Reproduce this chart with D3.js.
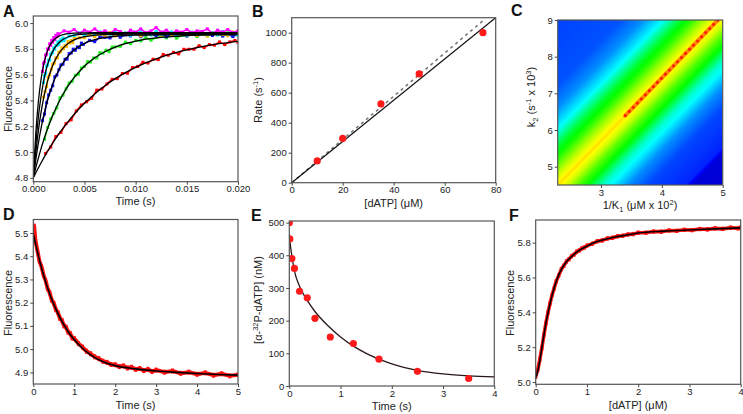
<!DOCTYPE html>
<html><head><meta charset="utf-8">
<script src="https://cdn.jsdelivr.net/npm/d3@7"></script>
<style>body{margin:0;background:#fff} svg{font-family:Arial,"Liberation Sans",sans-serif}</style>
</head><body>
<svg id="c" width="743" height="414"></svg>
<script>
// ---------------- Panel A data ----------------
const redData=[[0.0012,4.989],[0.0017,5.039],[0.0022,5.120],[0.0027,5.152],[0.0032,5.220],[0.0037,5.250],[0.0042,5.319],[0.0047,5.365],[0.0052,5.390],[0.0057,5.417],[0.0062,5.480],[0.0067,5.489],[0.0072,5.528],[0.0077,5.564],[0.0082,5.569],[0.0087,5.609],[0.0092,5.611],[0.0097,5.655],[0.0102,5.663],[0.0107,5.696],[0.0112,5.690],[0.0117,5.720],[0.0122,5.717],[0.0127,5.757],[0.0132,5.751],[0.0137,5.773],[0.0142,5.761],[0.0147,5.797],[0.0152,5.797],[0.0157,5.797],[0.0162,5.825],[0.0167,5.810],[0.0172,5.833],[0.0177,5.829],[0.0182,5.854],[0.0187,5.833],[0.0192,5.854],[0.0197,5.865],[0.0200,5.851]];
const greenData=[[0.0011,5.098],[0.0014,5.190],[0.0017,5.257],[0.0020,5.300],[0.0023,5.343],[0.0026,5.420],[0.0029,5.441],[0.0032,5.490],[0.0035,5.536],[0.0038,5.548],[0.0041,5.595],[0.0044,5.603],[0.0047,5.652],[0.0050,5.664],[0.0053,5.701],[0.0056,5.698],[0.0059,5.730],[0.0062,5.729],[0.0065,5.771],[0.0068,5.766],[0.0071,5.790],[0.0074,5.778],[0.0077,5.814],[0.0080,5.815],[0.0085,5.820],[0.0090,5.852],[0.0095,5.840],[0.0100,5.866],[0.0105,5.862],[0.0110,5.888],[0.0115,5.867],[0.0120,5.888],[0.0125,5.898],[0.0130,5.885],[0.0135,5.907],[0.0140,5.883],[0.0145,5.905],[0.0150,5.901],[0.0155,5.917],[0.0160,5.896],[0.0165,5.915],[0.0170,5.902],[0.0175,5.921],[0.0180,5.920],[0.0185,5.904],[0.0190,5.925],[0.0195,5.900],[0.0200,5.916]];
const blueData=[[0.0009,5.243],[0.0011,5.295],[0.0013,5.382],[0.0015,5.443],[0.0017,5.479],[0.0019,5.514],[0.0021,5.584],[0.0023,5.597],[0.0025,5.638],[0.0027,5.676],[0.0029,5.681],[0.0031,5.720],[0.0033,5.721],[0.0035,5.763],[0.0037,5.768],[0.0039,5.798],[0.0041,5.789],[0.0043,5.815],[0.0045,5.809],[0.0047,5.845],[0.0049,5.835],[0.0055,5.866],[0.0060,5.856],[0.0065,5.891],[0.0070,5.889],[0.0075,5.885],[0.0080,5.910],[0.0085,5.890],[0.0090,5.909],[0.0095,5.900],[0.0100,5.920],[0.0105,5.894],[0.0110,5.911],[0.0115,5.917],[0.0120,5.902],[0.0125,5.920],[0.0130,5.894],[0.0135,5.914],[0.0140,5.908],[0.0145,5.923],[0.0150,5.900],[0.0155,5.918],[0.0160,5.904],[0.0165,5.922],[0.0170,5.920],[0.0175,5.904],[0.0180,5.924],[0.0185,5.899],[0.0190,5.914],[0.0195,5.895],[0.0200,5.918]];
const orangeData=[[0.00100,5.426],[0.00115,5.468],[0.00130,5.508],[0.00145,5.581],[0.00160,5.598],[0.00175,5.642],[0.00190,5.682],[0.00205,5.689],[0.00220,5.729],[0.00235,5.731],[0.00250,5.773],[0.00265,5.779],[0.00280,5.809],[0.00295,5.801],[0.00310,5.827],[0.00325,5.820],[0.00340,5.857],[0.00355,5.846],[0.00370,5.864],[0.00385,5.848],[0.00400,5.880],[0.0045,5.886],[0.0050,5.887],[0.0055,5.913],[0.0060,5.895],[0.0065,5.915],[0.0070,5.906],[0.0075,5.927],[0.0080,5.901],[0.0085,5.918],[0.0090,5.924],[0.0095,5.908],[0.0100,5.926],[0.0105,5.900],[0.0110,5.919],[0.0115,5.913],[0.0120,5.928],[0.0125,5.905],[0.0130,5.923],[0.0135,5.909],[0.0140,5.927],[0.0145,5.925],[0.0150,5.909],[0.0155,5.929],[0.0160,5.904],[0.0165,5.919],[0.0170,5.900],[0.0175,5.923],[0.0180,5.927],[0.0185,5.912],[0.0190,5.902],[0.0195,5.931],[0.0200,5.908]];
const cyanData=[[0.0010,5.538],[0.0011,5.591],[0.0012,5.609],[0.0013,5.667],[0.0014,5.676],[0.0015,5.712],[0.0016,5.711],[0.0017,5.757],[0.0018,5.766],[0.0019,5.773],[0.0020,5.808],[0.0021,5.798],[0.0022,5.826],[0.0023,5.826],[0.0024,5.854],[0.0025,5.835],[0.0026,5.859],[0.0027,5.872],[0.0028,5.862],[0.0029,5.885],[0.0030,5.864],[0.0035,5.900],[0.0040,5.904],[0.0045,5.925],[0.0050,5.905],[0.0055,5.926],[0.0060,5.913],[0.0065,5.932],[0.0070,5.930],[0.0075,5.914],[0.0080,5.934],[0.0085,5.909],[0.0090,5.924],[0.0095,5.905],[0.0100,5.928],[0.0105,5.932],[0.0110,5.917],[0.0115,5.907],[0.0120,5.936],[0.0125,5.913],[0.0130,5.922],[0.0135,5.931],[0.0140,5.910],[0.0145,5.926],[0.0150,5.906],[0.0155,5.929],[0.0160,5.918],[0.0165,5.933],[0.0170,5.911],[0.0175,5.925],[0.0180,5.908],[0.0185,5.935],[0.0190,5.916],[0.0195,5.927],[0.0200,5.904]];
const magentaData=[[0.0009,5.625],[0.0010,5.688],[0.0011,5.700],[0.0012,5.752],[0.0013,5.758],[0.0014,5.800],[0.0015,5.798],[0.0016,5.840],[0.0017,5.828],[0.0018,5.866],[0.0019,5.852],[0.0020,5.888],[0.0021,5.872],[0.0022,5.905],[0.0023,5.894],[0.0024,5.918],[0.0025,5.915],[0.0030,5.940],[0.0035,5.930],[0.0040,5.950],[0.0045,5.920],[0.0050,5.945],[0.0055,5.930],[0.0060,5.955],[0.0065,5.925],[0.0070,5.940],[0.0075,5.920],[0.0080,5.950],[0.0085,5.935],[0.0090,5.915],[0.0095,5.945],[0.0100,5.930],[0.0105,5.955],[0.0110,5.925],[0.0115,5.940],[0.0120,5.965],[0.0125,5.930],[0.0130,5.945],[0.0135,5.920],[0.0140,5.940],[0.0145,5.930],[0.0150,5.950],[0.0155,5.925],[0.0160,5.940],[0.0165,5.935],[0.0170,5.955],[0.0175,5.920],[0.0180,5.945],[0.0185,5.930],[0.0190,5.950],[0.0195,5.925],[0.0200,5.940]];
const fitTimes=[0,0.00025,0.0005,0.00075,0.001,0.00125,0.0015,0.00175,0.002,0.0025,0.003,0.0035,0.004,0.005,0.006,0.007,0.008,0.009,0.010,0.012,0.014,0.016,0.018,0.020];
const redFit=[4.8,4.840,4.878,4.915,4.951,4.986,5.019,5.051,5.082,5.141,5.195,5.246,5.293,5.378,5.451,5.514,5.569,5.616,5.657,5.723,5.773,5.810,5.838,5.858];
const greenFit=[4.8,4.881,4.955,5.025,5.089,5.149,5.204,5.255,5.303,5.388,5.462,5.525,5.579,5.666,5.731,5.778,5.814,5.840,5.860,5.885,5.898,5.906,5.910,5.912];
const blueFit=[4.8,4.945,5.071,5.181,5.276,5.359,5.431,5.493,5.548,5.636,5.703,5.754,5.792,5.843,5.872,5.888,5.898,5.903,5.906,5.909,5.910,5.910,5.910,5.910];
const orangeFit=[4.8,5.002,5.168,5.303,5.414,5.505,5.579,5.640,5.690,5.764,5.814,5.847,5.870,5.895,5.906,5.911,5.913,5.914,5.915,5.915,5.915,5.915,5.915,5.915];
const cyanFit=[4.8,5.069,5.274,5.429,5.547,5.637,5.705,5.757,5.796,5.848,5.879,5.896,5.906,5.915,5.918,5.919,5.920,5.920,5.920,5.920,5.920,5.920,5.920,5.920];
const magentaFit=[4.8,5.152,5.394,5.560,5.674,5.752,5.806,5.844,5.869,5.899,5.913,5.919,5.922,5.924,5.925,5.925,5.925,5.925,5.925,5.925,5.925,5.925,5.925,5.925];
const aTicksX=[0,0.005,0.010,0.015,0.020], aTicksY=[4.8,5.0,5.2,5.4,5.6,5.8,6.0];

// ---------------- Panel B data ----------------
const bConc=[10,20,35,50,75];
const bRate=[145,295,525,725,1000];
const bSolid=[[0,0],[80,1100]];
const bDashed=[[0,0],[75,1080]];
const bTicksX=[0,20,40,60,80], bTicksY=[0,200,400,600,800,1000];

// ---------------- Panel C data ----------------
const heatOffset=[-3.3,-2.6,-1.6,-1.23,-0.9,-0.62,-0.41,-0.2,0,0.16,0.33,0.49,0.74,0.9,1.15,1.48,2.1,2.2,3.3];
const heatLevel=[0.06,0.065,0.08,0.14,0.25,0.45,0.55,0.68,0.78,0.70,0.58,0.50,0.30,0.24,0.14,0.07,0.035,-0.04,-0.05];
const ridgeK1=[3.400,3.466,3.532,3.598,3.664,3.730,3.796,3.862,3.928,3.994,4.060,4.126,4.192,4.258,4.324,4.390,4.456,4.522,4.588,4.654,4.720,4.786,4.852,4.918];
const ridgeK2=[6.394,6.507,6.620,6.733,6.846,6.959,7.072,7.184,7.297,7.410,7.523,7.636,7.749,7.862,7.975,8.088,8.201,8.314,8.427,8.540,8.653,8.765,8.878,8.991];
const cTicksX=[3,4,5], cTicksY=[5,6,7,8,9];

// ---------------- Panel D data ----------------
const dData=[[0,5.520],[0.02,5.530],[0.05,5.470],[0.1,5.425],[0.15,5.378],[0.2,5.356],[0.25,5.318],[0.3,5.296],[0.35,5.260],[0.4,5.243],[0.45,5.210],[0.5,5.198],[0.55,5.170],[0.6,5.158],[0.65,5.132],[0.7,5.124],[0.75,5.100],[0.8,5.095],[0.85,5.073],[0.9,5.068],[0.95,5.048],[1.0,5.046],[1.1,5.024],[1.2,5.009],[1.3,4.991],[1.4,4.980],[1.5,4.967],[1.6,4.959],[1.7,4.948],[1.8,4.943],[1.9,4.934],[2.0,4.933],[2.1,4.925],[2.2,4.928],[2.3,4.919],[2.4,4.922],[2.5,4.913],[2.6,4.917],[2.7,4.908],[2.8,4.913],[2.9,4.904],[3.0,4.910],[3.2,4.901],[3.4,4.906],[3.6,4.896],[3.8,4.901],[4.0,4.892],[4.2,4.898],[4.4,4.888],[4.6,4.894],[4.8,4.885],[5.0,4.890]];
const dFit=[[0,5.497],[0.1,5.420],[0.2,5.350],[0.3,5.290],[0.4,5.238],[0.5,5.193],[0.6,5.154],[0.7,5.119],[0.8,5.090],[0.9,5.063],[1.0,5.041],[1.2,5.004],[1.4,4.975],[1.6,4.954],[1.8,4.939],[2.0,4.929],[2.5,4.915],[3.0,4.906],[3.5,4.900],[4.0,4.895],[4.5,4.891],[5.0,4.888]];
const dTicksX=[0,1,2,3,4,5], dTicksY=[4.9,5.0,5.1,5.2,5.3,5.4,5.5];

// ---------------- Panel E data ----------------
const eTime=[0,0.01,0.05,0.1,0.2,0.35,0.5,0.8,1.25,1.75,2.5,3.5];
const eConc=[500,450,390,360,290,270,207,150,130,82,45,23];
const eFit=[[0,465],[0.02,432],[0.05,398],[0.1,352],[0.2,305],[0.35,262],[0.5,228],[0.75,185],[1,150],[1.25,122],[1.5,100],[2,68],[2.5,48],[3,37],[3.5,31],[4,28]];
const eTicksX=[0,1,2,3,4], eTicksY=[0,100,200,300,400,500];

// ---------------- Panel F data ----------------
const fData=[[0,5.030],[0.04,5.070],[0.08,5.130],[0.12,5.195],[0.16,5.270],[0.20,5.338],[0.24,5.400],[0.28,5.452],[0.32,5.500],[0.36,5.538],[0.40,5.578],[0.45,5.612],[0.50,5.648],[0.55,5.668],[0.60,5.692],[0.65,5.705],[0.70,5.723],[0.75,5.732],[0.80,5.748],[0.85,5.755],[0.90,5.767],[0.95,5.772],[1.00,5.783],[1.10,5.793],[1.20,5.808],[1.30,5.813],[1.40,5.824],[1.50,5.828],[1.60,5.837],[1.70,5.840],[1.80,5.847],[1.90,5.849],[2.00,5.857],[2.15,5.857],[2.30,5.864],[2.45,5.863],[2.60,5.870],[2.75,5.868],[2.90,5.874],[3.05,5.872],[3.20,5.878],[3.35,5.876],[3.50,5.882],[3.65,5.879],[3.80,5.886],[3.95,5.882],[4.00,5.887]];
const fFit=[[0,5.025],[0.05,5.075],[0.1,5.16],[0.15,5.25],[0.2,5.34],[0.25,5.41],[0.3,5.475],[0.35,5.53],[0.4,5.575],[0.45,5.615],[0.5,5.645],[0.6,5.69],[0.7,5.72],[0.8,5.745],[0.9,5.765],[1.0,5.78],[1.2,5.806],[1.4,5.822],[1.6,5.835],[1.8,5.845],[2.0,5.855],[2.5,5.866],[3.0,5.873],[3.5,5.879],[4.0,5.885]];
const fTicksX=[0,1,2,3,4], fTicksY=[5.0,5.2,5.4,5.6,5.8];

// ---------------- helpers ----------------
const svg=d3.select("#c");
const FONT='Arial, "Liberation Sans", sans-serif';
function makePanel(o){
  const x=d3.scaleLinear().domain(o.xd).range([o.x0,o.x1]);
  const y=d3.scaleLinear().domain(o.yd).range([o.y1,o.y0]);
  const id="clip"+o.name;
  svg.append("clipPath").attr("id",id).append("rect")
    .attr("x",o.x0).attr("y",o.y0).attr("width",o.x1-o.x0).attr("height",o.y1-o.y0);
  const g=svg.append("g");
  const plot=g.append("g").attr("clip-path",`url(#${id})`);
  return {o,x,y,g,plot};
}
function finish(p){
  const o=p.o;
  p.g.append("rect").attr("x",o.x0).attr("y",o.y0).attr("width",o.x1-o.x0).attr("height",o.y1-o.y0)
    .attr("fill","none").attr("stroke","#555").attr("stroke-width",1.2);
  const style=s=>{s.select(".domain").remove();s.attr("font-family",FONT).attr("font-size",9.5);
    s.selectAll("line").attr("stroke","#444");s.selectAll("text").attr("fill","#222");};
  p.g.append("g").attr("transform",`translate(0,${o.y1})`)
    .call(d3.axisBottom(p.x).tickValues(o.xt).tickFormat(o.xf).tickSize(3).tickPadding(1)).call(style);
  p.g.append("g").attr("transform",`translate(${o.x0},0)`)
    .call(d3.axisLeft(p.y).tickValues(o.yt).tickFormat(o.yf).tickSize(3).tickPadding(2)).call(style);
  svg.append("text").attr("x",o.lx).attr("y",o.ly).attr("font-family",FONT).attr("font-weight","bold")
    .attr("font-size",16).attr("fill","#111").text(o.name);
}
function label(x,y,parts,rot){
  const t=svg.append("text").attr("font-family",FONT).attr("font-size",11).attr("fill","#222")
    .attr("text-anchor","middle");
  if(rot) t.attr("transform",`translate(${x},${y}) rotate(-90)`); else t.attr("x",x).attr("y",y);
  parts.forEach(pp=>{
    const s=t.append("tspan").text(pp.t);
    if(pp.sup){s.attr("font-size",7.5).attr("dy",-4);}
    if(pp.sub){s.attr("font-size",7.5).attr("dy",3);}
    if(pp.back) s.attr("dy",pp.back);
  });
}
const f1=d3.format(".1f"), f3=d3.format(".3f"), f0=d3.format("d");

// ---------------- Panel A ----------------
const A=makePanel({name:"A",x0:33.3,x1:238,y0:16,y1:181.7,xd:[0,0.02],yd:[4.77,6.055],xt:aTicksX,yt:aTicksY,xf:f3,yf:f1,lx:3,ly:17});
const traces=[[redData,"#ff0000"],[greenData,"#22ee22"],[blueData,"#1010ee"],[orangeData,"#ffb400"],[cyanData,"#00e8ff"],[magentaData,"#ff00ff"]];
const lineA=d3.line().x(d=>A.x(d[0])).y(d=>A.y(d[1]));
traces.forEach(([data,col])=>{
  A.plot.append("path").datum(data).attr("d",lineA).attr("fill","none").attr("stroke",col).attr("stroke-width",1.6).attr("stroke-linejoin","round");
  A.plot.selectAll(null).data(data).enter().append("rect")
    .attr("x",d=>A.x(d[0])-1.5).attr("y",d=>A.y(d[1])-1.5).attr("width",3).attr("height",3).attr("fill",col);
});
const fitLineA=d3.line().x((d,i)=>A.x(fitTimes[i])).y(d=>A.y(d)).curve(d3.curveMonotoneX);
[redFit,greenFit,blueFit,orangeFit,cyanFit,magentaFit].forEach(f=>{
  A.plot.append("path").datum(f).attr("d",fitLineA).attr("fill","none").attr("stroke","#000").attr("stroke-width",1.3);
});
finish(A);
label(135.5,205,[{t:"Time (s)"}]);
label(11.5,99,[{t:"Fluorescence"}],true);

// ---------------- Panel B ----------------
const B=makePanel({name:"B",x0:291.7,x1:495.7,y0:17.7,y1:182.7,xd:[0,80],yd:[0,1100],xt:bTicksX,yt:bTicksY,xf:f0,yf:f0,lx:252,ly:17});
const lineB=d3.line().x(d=>B.x(d[0])).y(d=>B.y(d[1]));
B.plot.append("path").datum(bDashed).attr("d",lineB).attr("stroke","#777").attr("stroke-width",1.6).attr("stroke-dasharray","3,3.5").attr("fill","none");
B.plot.append("path").datum(bSolid).attr("d",lineB).attr("stroke","#111").attr("stroke-width",1.3).attr("fill","none");
B.plot.selectAll(null).data(bConc).enter().append("circle")
  .attr("cx",d=>B.x(d)).attr("cy",(d,i)=>B.y(bRate[i])).attr("r",3.6).attr("fill","#ff1a1a");
finish(B);
label(393.7,206.5,[{t:"[dATP] (μM)"}]);
label(262,100,[{t:"Rate (s"},{t:"-1",sup:true},{t:")",back:4}],true);

// ---------------- Panel C ----------------
const C=makePanel({name:"C",x0:557.7,x1:722.7,y0:20,y1:185,xd:[2.29,5],yd:[4.5,9],xt:cTicksX,yt:cTicksY,xf:f0,yf:f0,lx:511,ly:16});
{
  const heatColor=d3.scaleLinear().domain([-0.05,0,0.25,0.5,0.75,1])
    .range(["#0000d0","#0000ff","#00ffff","#00ff00","#ffff00","#ff0000"]).clamp(true);
  const profile=d3.scaleLinear().domain(heatOffset).range(heatLevel).clamp(true);
  const n=ridgeK1.length-1;
  const slope=(ridgeK1[n]-ridgeK1[0])/(ridgeK2[n]-ridgeK2[0]);
  const o=C.o, W=Math.round(o.x1-o.x0), H=Math.round(o.y1-o.y0);
  const cv=document.createElement("canvas"); cv.width=W; cv.height=H;
  const ctx=cv.getContext("2d"); const img=ctx.createImageData(W,H);
  for(let j=0;j<H;j++){
    const k2=C.y.invert(o.y0+j+0.5);
    const xr=ridgeK1[0]+(k2-ridgeK2[0])*slope;
    for(let i=0;i<W;i++){
      const k1=C.x.invert(o.x0+i+0.5);
      const c=d3.rgb(heatColor(profile(k1-xr)));
      const q=4*(j*W+i); img.data[q]=c.r; img.data[q+1]=c.g; img.data[q+2]=c.b; img.data[q+3]=255;
    }
  }
  ctx.putImageData(img,0,0);
  C.plot.append("image").attr("x",o.x0).attr("y",o.y0).attr("width",o.x1-o.x0).attr("height",o.y1-o.y0)
    .attr("preserveAspectRatio","none").attr("href",cv.toDataURL());
  const rl=d3.line().x((d,i)=>C.x(ridgeK1[i])).y(d=>C.y(d));
  C.plot.append("path").datum(ridgeK2).attr("d",rl).attr("stroke","#ff8a00").attr("stroke-width",4).attr("stroke-linecap","round").attr("fill","none");
  C.plot.selectAll(null).data(ridgeK2).enter().append("circle")
    .attr("cx",(d,i)=>C.x(ridgeK1[i])).attr("cy",d=>C.y(d)).attr("r",1.6).attr("fill","#ff2200");
}
finish(C);
label(640,208.5,[{t:"1/K"},{t:"1",sub:true},{t:" (μM x 10",back:-3},{t:"2",sup:true},{t:")",back:4}]);
label(535,97,[{t:"k"},{t:"2",sub:true},{t:" (s",back:-3},{t:"-1",sup:true},{t:" x 10",back:4},{t:"3",sup:true},{t:")",back:4}],true);

// ---------------- Panel D ----------------
const D=makePanel({name:"D",x0:33.3,x1:238,y0:219.5,y1:384,xd:[0,5],yd:[4.85,5.558],xt:dTicksX,yt:dTicksY,xf:f0,yf:f1,lx:3,ly:220});
const lineD=d3.line().x(d=>D.x(d[0])).y(d=>D.y(d[1]));
D.plot.append("path").datum(dData).attr("d",lineD).attr("fill","none").attr("stroke","#ff1010").attr("stroke-width",4).attr("stroke-linejoin","round");
D.plot.selectAll(null).data(dData).enter().append("rect")
  .attr("x",d=>D.x(d[0])-1.5).attr("y",d=>D.y(d[1])-2.5).attr("width",3).attr("height",5).attr("fill","#ff1010");
D.plot.append("path").datum(dFit).attr("d",lineD.curve(d3.curveMonotoneX)).attr("fill","none").attr("stroke","#000").attr("stroke-width",1.6);
finish(D);
label(135.5,409,[{t:"Time (s)"}]);
label(11.5,303,[{t:"Fluorescence"}],true);

// ---------------- Panel E ----------------
const E=makePanel({name:"E",x0:289.3,x1:494.3,y0:221,y1:386,xd:[0,4],yd:[0,505],xt:eTicksX,yt:eTicksY,xf:f0,yf:f0,lx:251,ly:221});
E.plot.append("path").datum(eFit).attr("d",d3.line().x(d=>E.x(d[0])).y(d=>E.y(d[1])).curve(d3.curveMonotoneX))
  .attr("fill","none").attr("stroke","#2a1818").attr("stroke-width",1.3);
E.plot.selectAll(null).data(eTime).enter().append("circle")
  .attr("cx",d=>E.x(d)).attr("cy",(d,i)=>E.y(eConc[i])).attr("r",3.6).attr("fill","#ff1a1a");
finish(E);
label(391.8,410,[{t:"Time (s)"}]);
label(262,300,[{t:"[α-"},{t:"32",sup:true},{t:"P-dATP] (nM)",back:4}],true);

// ---------------- Panel F ----------------
const F=makePanel({name:"F",x0:535.7,x1:740.7,y0:220,y1:384.3,xd:[0,4],yd:[4.987,5.93],xt:fTicksX,yt:fTicksY,xf:f0,yf:f1,lx:509,ly:221});
const lineF=d3.line().x(d=>F.x(d[0])).y(d=>F.y(d[1]));
F.plot.append("path").datum(fData).attr("d",lineF).attr("fill","none").attr("stroke","#ff1010").attr("stroke-width",3.6).attr("stroke-linejoin","round");
F.plot.selectAll(null).data(fData).enter().append("rect")
  .attr("x",d=>F.x(d[0])-1.5).attr("y",d=>F.y(d[1])-2.2).attr("width",3).attr("height",4.4).attr("fill","#ff1010");
F.plot.append("path").datum(fFit).attr("d",lineF.curve(d3.curveMonotoneX)).attr("fill","none").attr("stroke","#000").attr("stroke-width",1.6);
finish(F);
label(638.2,409,[{t:"[dATP] (μM)"}]);
label(514,303,[{t:"Fluorescence"}],true);
</script>
</body></html>
